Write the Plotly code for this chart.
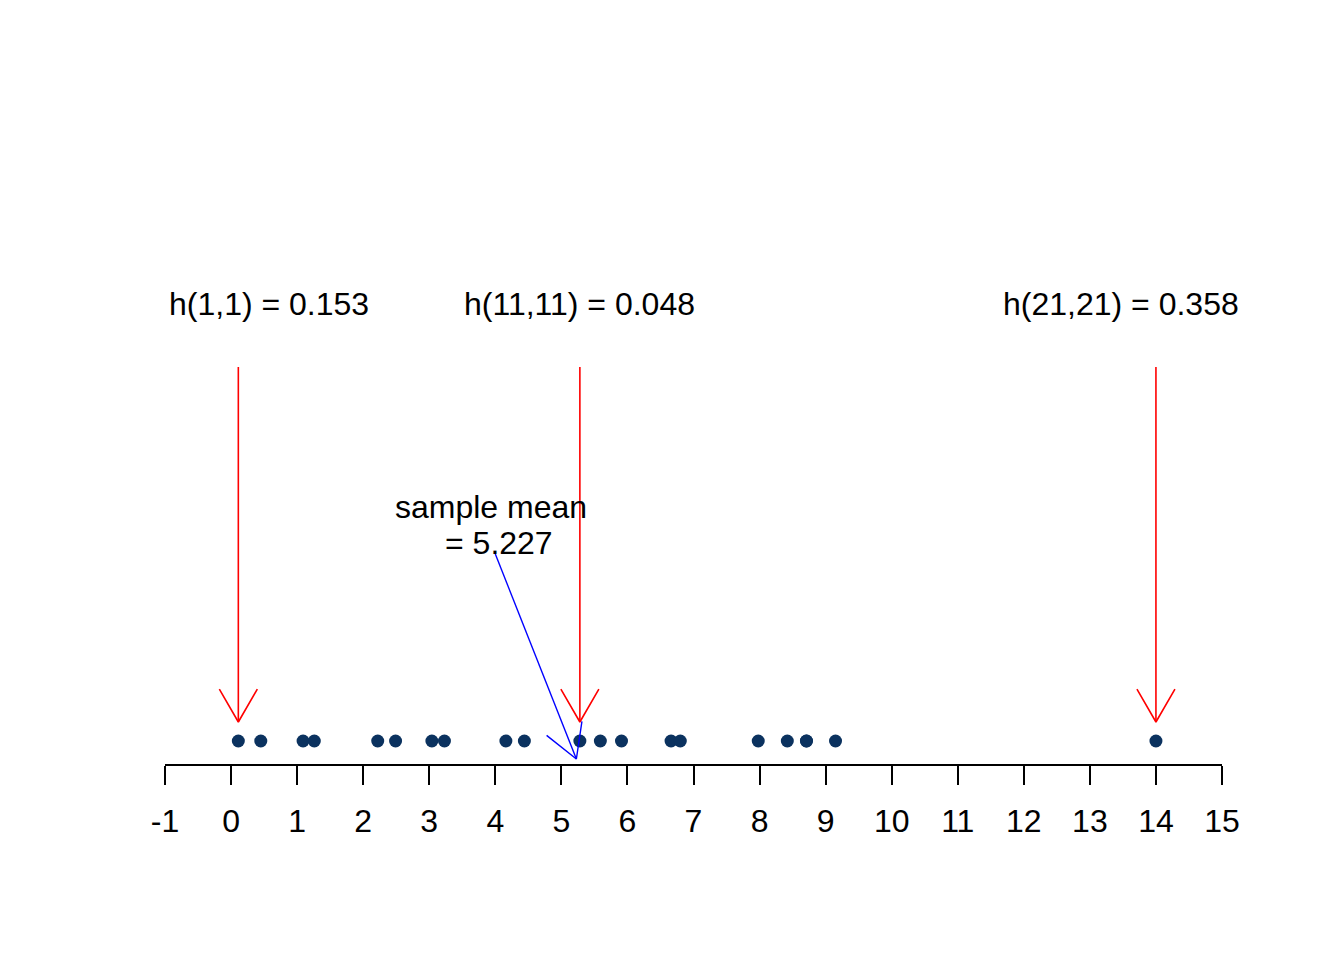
import math
import plotly.graph_objects as go

# ---- data ----
x_values = [0.11, 0.45, 1.09, 1.26, 2.22, 2.49, 3.04, 3.23, 4.16, 4.44, 5.28,
            5.59, 5.91, 6.66, 6.80, 7.98, 8.42, 8.71, 8.71, 9.15, 14.0]
arrow_index = [0, 10, 20]
h_labels = ["h(1,1) = 0.153", "h(11,11) = 0.048", "h(21,21) = 0.358"]
h_label_x = [0.57, 5.28, 13.47]
sample_mean = 5.227
mean_label_lines = ["sample mean", "= 5.227"]
mean_label_x = [3.93, 4.05]
mean_arrow_tail_x = 4.0
tick_vals = list(range(-1, 16))
tick_text = [str(v) for v in tick_vals]

# ---- layout geometry ----
W, H = 1344, 960
ML, MR, MT, MB = 165, 122, 0, 196
XR = [-1, 15]
plot_w = W - ML - MR
plot_h = H - MT - MB
YR = [0, plot_h]
sx = plot_w / (XR[1] - XR[0])
sy = plot_h / (YR[1] - YR[0])

FONT = "Liberation Sans, Arial, sans-serif"
FS = 32


def arrow(x0, y0, x1, y1, L=38, ang=30):
    dx = (x1 - x0) * sx
    dy = (y1 - y0) * sy
    n = math.hypot(dx, dy)
    bx, by = -dx / n, -dy / n
    xs = [x0, x1, None]
    ys = [y0, y1, None]
    pts = []
    for s in (1, -1):
        a = math.radians(ang) * s
        rx = bx * math.cos(a) - by * math.sin(a)
        ry = bx * math.sin(a) + by * math.cos(a)
        pts.append((x1 + L * rx / sx, y1 + L * ry / sy))
    xs += [pts[0][0], x1, pts[1][0], None]
    ys += [pts[0][1], y1, pts[1][1], None]
    return xs, ys


fig = go.Figure()

# points
fig.add_trace(go.Scatter(
    x=x_values, y=[23] * len(x_values), mode="markers",
    marker=dict(size=13, color="#0b325f"), hoverinfo="skip", showlegend=False))

# red arrows
rx, ry = [], []
for i in arrow_index:
    a, b = arrow(x_values[i], 397, x_values[i], 42)
    rx += a
    ry += b
fig.add_trace(go.Scatter(x=rx, y=ry, mode="lines",
                         line=dict(color="#ff0000", width=1.6),
                         hoverinfo="skip", showlegend=False))

# blue arrow
bxs, bys = arrow(mean_arrow_tail_x, 210, sample_mean, 5)
fig.add_trace(go.Scatter(x=bxs, y=bys, mode="lines",
                         line=dict(color="#0000ff", width=1.4),
                         hoverinfo="skip", showlegend=False))

annotations = []
for lbl, lx in zip(h_labels, h_label_x):
    annotations.append(dict(x=lx, y=460, xref="x", yref="y", text=lbl,
                            showarrow=False, xanchor="center", yanchor="middle",
                            font=dict(family=FONT, size=FS, color="black")))
for lbl, lx, ly in zip(mean_label_lines, mean_label_x, [257, 221]):
    annotations.append(dict(x=lx, y=ly, xref="x", yref="y", text=lbl,
                            showarrow=False, xanchor="center", yanchor="middle",
                            font=dict(family=FONT, size=FS, color="black")))

fig.update_layout(
    width=W, height=H,
    margin=dict(l=ML, r=MR, t=MT, b=MB, pad=0),
    paper_bgcolor="white", plot_bgcolor="white",
    annotations=annotations,
    xaxis=dict(range=XR, tickvals=tick_vals, ticktext=tick_text,
               showline=True, linecolor="black", linewidth=2,
               ticks="outside", ticklen=19, tickwidth=2, tickcolor="black",
               ticklabelstandoff=9,
               showgrid=False, zeroline=False,
               tickfont=dict(family=FONT, size=FS, color="black")),
    yaxis=dict(range=YR, visible=False, showgrid=False, zeroline=False),
)

fig.write_html("out.html")
